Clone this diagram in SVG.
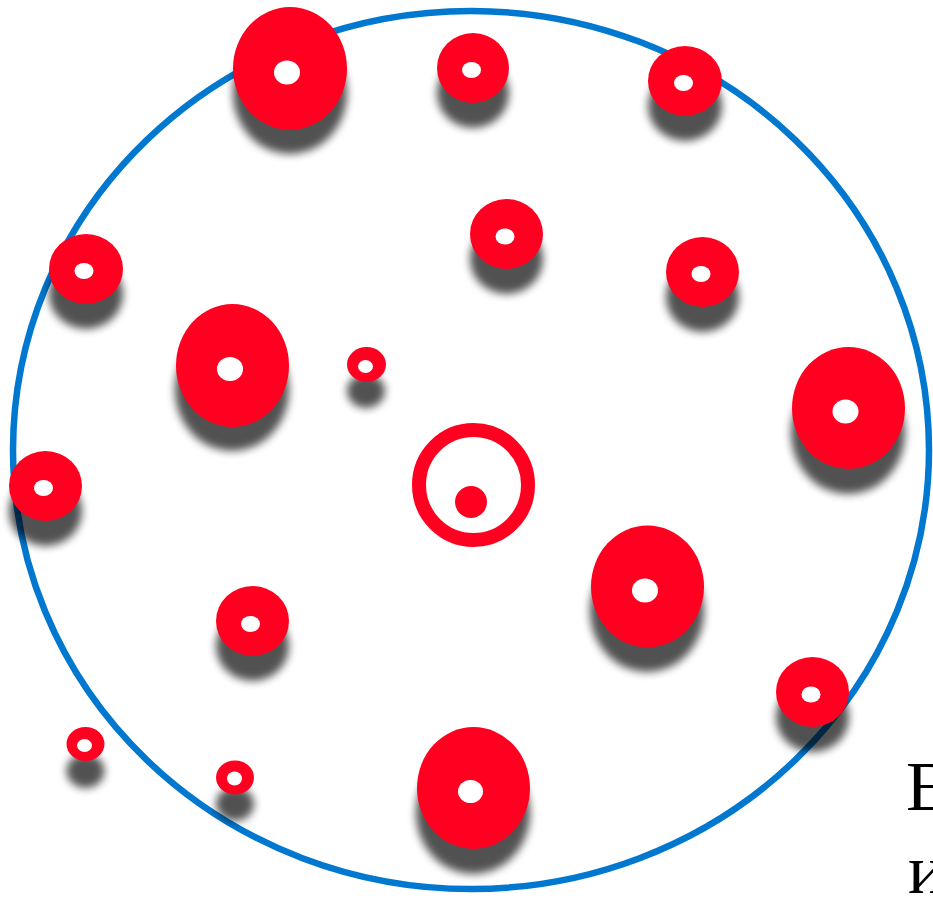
<svg xmlns="http://www.w3.org/2000/svg" width="933" height="899" viewBox="0 0 933 899">
<style>
.ring{fill:none;stroke:#0078D0;stroke-width:6.5}
.d{fill:#FF0020}
.h{fill:#fff}
.s{fill:#000;opacity:0.68;filter:url(#blur)}
.t{font-family:"Liberation Serif","Times New Roman",serif;font-size:70px;fill:#000}
</style>
<defs>
<filter id="blur" x="-30%" y="-30%" width="160%" height="160%"><feGaussianBlur stdDeviation="4.5"/></filter>
</defs>
<rect width="933" height="899" fill="#fff"/>
<ellipse id="boundary" class="ring" cx="471" cy="450" rx="458" ry="439"/>
<g id="n1"><ellipse class="s" cx="290" cy="93" rx="57" ry="61"/><ellipse class="d" cx="290" cy="68.5" rx="57" ry="61.5"/><ellipse class="h" cx="287" cy="72.5" rx="13" ry="12"/></g>
<g id="n2"><ellipse class="s" cx="473" cy="93" rx="36" ry="35"/><ellipse class="d" cx="473" cy="68" rx="36" ry="35"/><ellipse class="h" cx="471.5" cy="70" rx="9.5" ry="8"/></g>
<g id="n3"><ellipse class="s" cx="685" cy="106" rx="37" ry="35"/><ellipse class="d" cx="685" cy="81" rx="37" ry="35"/><ellipse class="h" cx="683.5" cy="83" rx="9.5" ry="8"/></g>
<g id="n4"><ellipse class="s" cx="506.5" cy="259" rx="36.5" ry="35"/><ellipse class="d" cx="506.5" cy="234" rx="36.5" ry="35"/><ellipse class="h" cx="505" cy="236.5" rx="9.5" ry="8"/></g>
<g id="n5"><ellipse class="s" cx="86" cy="294" rx="37" ry="35"/><ellipse class="d" cx="86" cy="269" rx="37" ry="35"/><ellipse class="h" cx="84" cy="271" rx="9.5" ry="8"/></g>
<g id="n6"><ellipse class="s" cx="702.5" cy="297" rx="36.5" ry="35"/><ellipse class="d" cx="702.5" cy="272" rx="36.5" ry="35"/><ellipse class="h" cx="701" cy="274" rx="9.5" ry="8"/></g>
<g id="n7"><ellipse class="s" cx="232" cy="390" rx="57" ry="61"/><ellipse class="d" cx="232.5" cy="365.5" rx="56.5" ry="61.5"/><ellipse class="h" cx="230" cy="369" rx="13" ry="12"/></g>
<g id="n8"><ellipse class="s" cx="366" cy="391" rx="19" ry="17"/><ellipse class="d" cx="366.5" cy="364.5" rx="19.5" ry="17.5"/><ellipse class="h" cx="365.5" cy="366.5" rx="7.5" ry="6.5"/></g>
<g id="n9"><ellipse class="s" cx="848" cy="433" rx="57" ry="61"/><ellipse class="d" cx="848.5" cy="408" rx="56.5" ry="61"/><ellipse class="h" cx="845.5" cy="411.5" rx="13" ry="12"/></g>
<g id="n10"><ellipse class="s" cx="45.5" cy="511" rx="36.5" ry="35"/><ellipse class="d" cx="45.5" cy="486" rx="36.5" ry="35"/><ellipse class="h" cx="43.5" cy="488" rx="9.5" ry="8"/></g>
<g id="center"><ellipse cx="473.5" cy="485" rx="54.5" ry="55" fill="none" stroke="#FF0020" stroke-width="14"/><circle class="d" cx="471" cy="502" r="16"/></g>
<g id="n12"><ellipse class="s" cx="647" cy="611" rx="57" ry="61"/><ellipse class="d" cx="647.5" cy="586.5" rx="56.5" ry="61"/><ellipse class="h" cx="645" cy="590.5" rx="13" ry="12"/></g>
<g id="n13"><ellipse class="s" cx="252.5" cy="646" rx="36.5" ry="35"/><ellipse class="d" cx="252.5" cy="621" rx="36.5" ry="35"/><ellipse class="h" cx="250.5" cy="624" rx="9.5" ry="8"/></g>
<g id="n14"><ellipse class="s" cx="812.5" cy="717" rx="36.5" ry="35"/><ellipse class="d" cx="812.5" cy="692" rx="36.5" ry="35"/><ellipse class="h" cx="811" cy="694.5" rx="9.5" ry="8"/></g>
<g id="n15"><ellipse class="s" cx="85.5" cy="771" rx="19" ry="17"/><ellipse class="d" cx="85.5" cy="744" rx="19" ry="17"/><ellipse class="h" cx="84.5" cy="745.5" rx="7.5" ry="6.5"/></g>
<g id="n16"><ellipse class="s" cx="235" cy="804" rx="19" ry="17"/><ellipse class="d" cx="235" cy="777.5" rx="19" ry="17"/><ellipse class="h" cx="234.5" cy="778.5" rx="7.5" ry="7"/></g>
<g id="n17"><ellipse class="s" cx="473" cy="813" rx="57" ry="61"/><ellipse class="d" cx="473.5" cy="788" rx="56.5" ry="61"/><ellipse class="h" cx="470.5" cy="791.5" rx="12.5" ry="11.5"/></g>
<g id="label"><text class="t" x="906" y="810">Е</text><text class="t" x="908" y="893">и</text></g>
</svg>
